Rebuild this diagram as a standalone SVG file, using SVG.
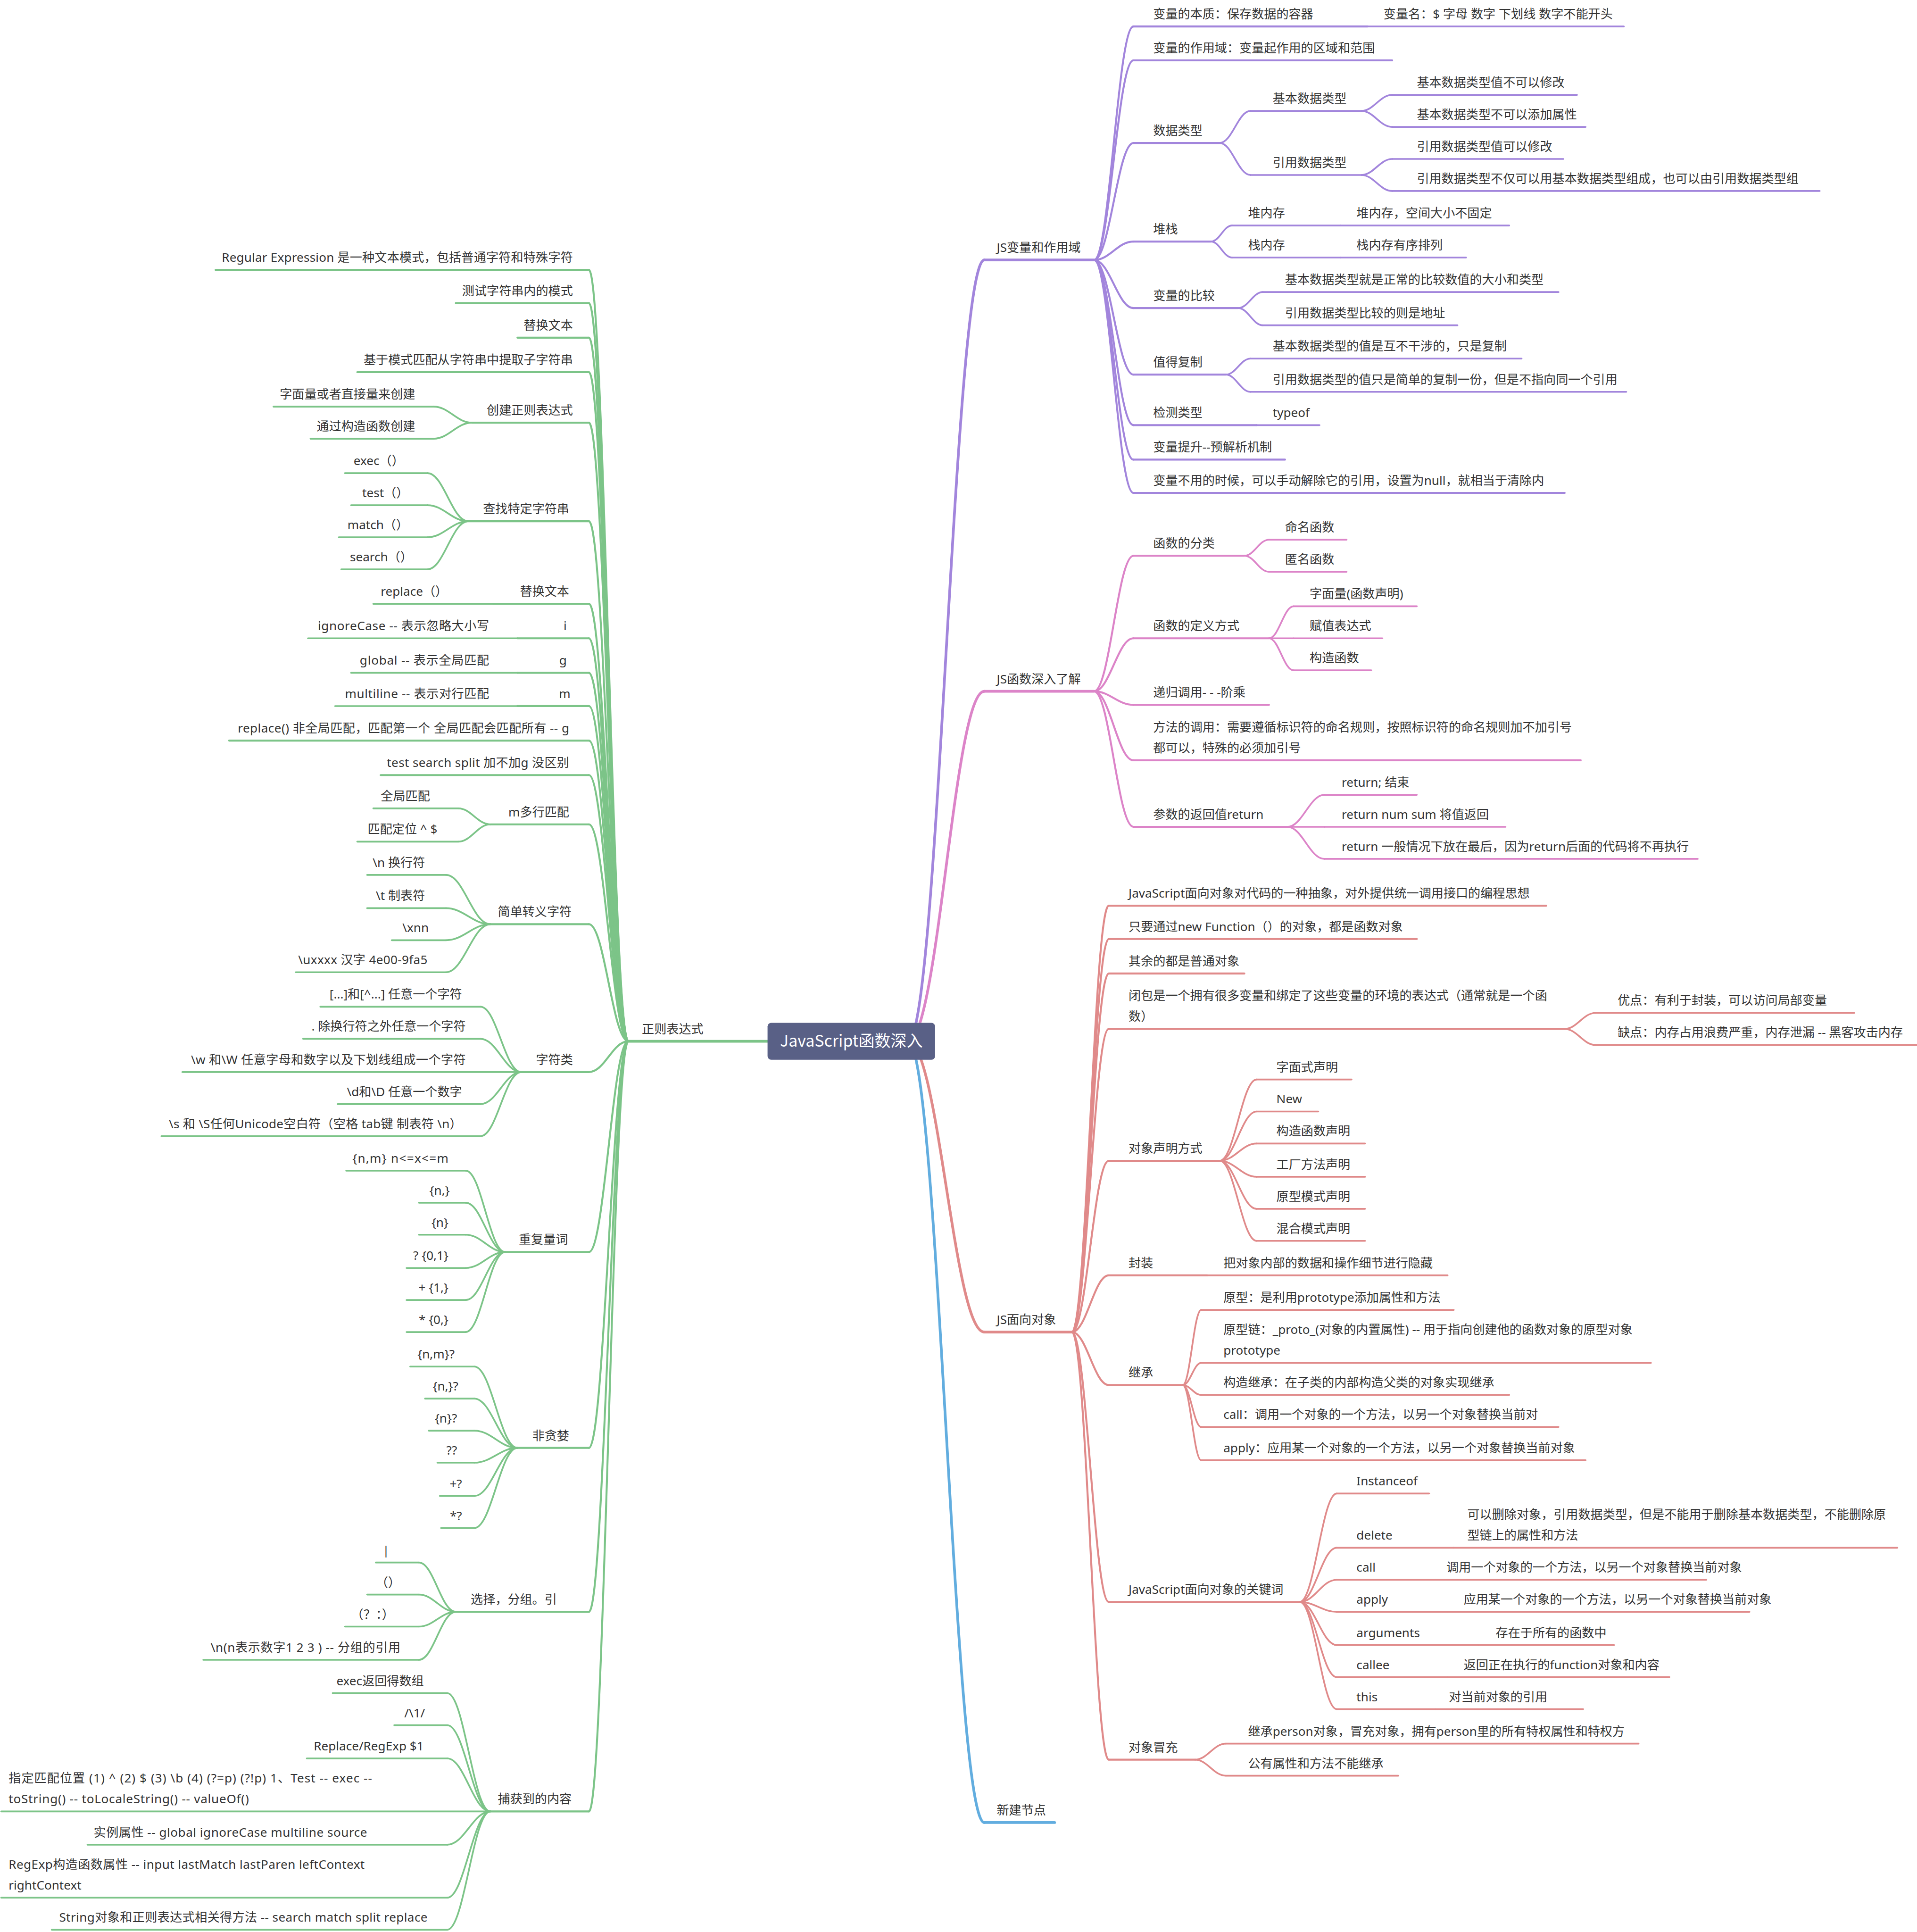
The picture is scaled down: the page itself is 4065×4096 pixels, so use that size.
<svg xmlns="http://www.w3.org/2000/svg" width="4065" height="4096" viewBox="0 0 4065 4096">
<style>
.t{font-family:"Noto Sans","Noto Sans CJK SC",sans-serif;font-size:10px;fill:#333}
.e{text-anchor:end}
.ln{fill:none;stroke-linecap:round}
.w1{stroke-width:2.2}.w2{stroke-width:1.6}.w3{stroke-width:1.4}
.P{stroke:#a285dc}.K{stroke:#dc84c8}.R{stroke:#e08a8a}.G{stroke:#7cc488}.B{stroke:#62addf}
</style>
<rect width="4065" height="4096" fill="#fff"/>
<g transform="scale(2.6125)">
<g id="connectors">
<path class="ln w1 P" d="M737 845C761.8 845 774.2 211 799 211"/>
<path class="ln w1 K" d="M737 845C761.8 845 774.2 561 799 561"/>
<path class="ln w1 R" d="M737 845C761.8 845 774.2 1081 799 1081"/>
<path class="ln w1 B" d="M737 845C761.8 845 774.2 1479 799 1479"/>
<path class="ln w1 G" d="M623 845H510"/>
<path class="ln w2 P" d="M888 211C900.8 211 907.2 21.5 920 21.5"/>
<path class="ln w2 P" d="M888 211C900.8 211 907.2 49 920 49"/>
<path class="ln w2 P" d="M888 211C900.8 211 907.2 116 920 116"/>
<path class="ln w2 P" d="M888 211C900.8 211 907.2 196 920 196"/>
<path class="ln w2 P" d="M888 211C900.8 211 907.2 250 920 250"/>
<path class="ln w2 P" d="M888 211C900.8 211 907.2 304 920 304"/>
<path class="ln w2 P" d="M888 211C900.8 211 907.2 345 920 345"/>
<path class="ln w2 P" d="M888 211C900.8 211 907.2 373 920 373"/>
<path class="ln w2 P" d="M888 211C900.8 211 907.2 400 920 400"/>
<path class="ln w3 P" d="M990 116C1000 116 1005 90 1015 90"/>
<path class="ln w3 P" d="M990 116C1000 116 1005 142 1015 142"/>
<path class="ln w3 P" d="M1105 90C1115 90 1120 77 1130 77"/>
<path class="ln w3 P" d="M1105 90C1115 90 1120 103 1130 103"/>
<path class="ln w3 P" d="M1105 142C1115 142 1120 129 1130 129"/>
<path class="ln w3 P" d="M1105 142C1115 142 1120 155 1130 155"/>
<path class="ln w3 P" d="M983 196C989.8 196 993.2 183 1000 183"/>
<path class="ln w3 P" d="M983 196C989.8 196 993.2 209 1000 209"/>
<path class="ln w3 P" d="M1005 250C1013 250 1017 237 1025 237"/>
<path class="ln w3 P" d="M1005 250C1013 250 1017 264 1025 264"/>
<path class="ln w3 P" d="M995 304C1003 304 1007 291 1015 291"/>
<path class="ln w3 P" d="M995 304C1003 304 1007 318 1015 318"/>
<path class="ln w2 K" d="M888 561C900.8 561 907.2 451 920 451"/>
<path class="ln w2 K" d="M888 561C900.8 561 907.2 518 920 518"/>
<path class="ln w2 K" d="M888 561C900.8 561 907.2 572 920 572"/>
<path class="ln w2 K" d="M888 561C900.8 561 907.2 617 920 617"/>
<path class="ln w2 K" d="M888 561C900.8 561 907.2 671 920 671"/>
<path class="ln w3 K" d="M1010 451C1018 451 1022 438 1030 438"/>
<path class="ln w3 K" d="M1010 451C1018 451 1022 464 1030 464"/>
<path class="ln w3 K" d="M1030 518C1038 518 1042 492 1050 492"/>
<path class="ln w3 K" d="M1030 518H1050"/>
<path class="ln w3 K" d="M1030 518C1038 518 1042 544 1050 544"/>
<path class="ln w3 K" d="M1045 671C1057 671 1063 645 1075 645"/>
<path class="ln w3 K" d="M1045 671H1075"/>
<path class="ln w3 K" d="M1045 671C1057 671 1063 697 1075 697"/>
<path class="ln w2 R" d="M870 1081C882 1081 888 735 900 735"/>
<path class="ln w2 R" d="M870 1081C882 1081 888 762 900 762"/>
<path class="ln w2 R" d="M870 1081C882 1081 888 790 900 790"/>
<path class="ln w2 R" d="M870 1081C882 1081 888 835 900 835"/>
<path class="ln w2 R" d="M870 1081C882 1081 888 942 900 942"/>
<path class="ln w2 R" d="M870 1081C882 1081 888 1035 900 1035"/>
<path class="ln w2 R" d="M870 1081C882 1081 888 1124 900 1124"/>
<path class="ln w2 R" d="M870 1081C882 1081 888 1300 900 1300"/>
<path class="ln w2 R" d="M870 1081C882 1081 888 1428 900 1428"/>
<path class="ln w3 R" d="M1270 835C1280 835 1285 822 1295 822"/>
<path class="ln w3 R" d="M1270 835C1280 835 1285 848 1295 848"/>
<path class="ln w3 R" d="M990 942C1002 942 1008 876 1020 876"/>
<path class="ln w3 R" d="M990 942C1002 942 1008 902 1020 902"/>
<path class="ln w3 R" d="M990 942C1002 942 1008 928 1020 928"/>
<path class="ln w3 R" d="M990 942C1002 942 1008 955 1020 955"/>
<path class="ln w3 R" d="M990 942C1002 942 1008 981 1020 981"/>
<path class="ln w3 R" d="M990 942C1002 942 1008 1007 1020 1007"/>
<path class="ln w3 R" d="M960 1124C966 1124 969 1063 975 1063"/>
<path class="ln w3 R" d="M960 1124C966 1124 969 1106 975 1106"/>
<path class="ln w3 R" d="M960 1124C966 1124 969 1132 975 1132"/>
<path class="ln w3 R" d="M960 1124C966 1124 969 1158 975 1158"/>
<path class="ln w3 R" d="M960 1124C966 1124 969 1185 975 1185"/>
<path class="ln w3 R" d="M1055 1300C1067 1300 1073 1212 1085 1212"/>
<path class="ln w3 R" d="M1055 1300C1067 1300 1073 1256 1085 1256"/>
<path class="ln w3 R" d="M1055 1300C1067 1300 1073 1282 1085 1282"/>
<path class="ln w3 R" d="M1055 1300C1067 1300 1073 1308 1085 1308"/>
<path class="ln w3 R" d="M1055 1300C1067 1300 1073 1335 1085 1335"/>
<path class="ln w3 R" d="M1055 1300C1067 1300 1073 1361 1085 1361"/>
<path class="ln w3 R" d="M1055 1300C1067 1300 1073 1387 1085 1387"/>
<path class="ln w3 R" d="M970 1428C980 1428 985 1415 995 1415"/>
<path class="ln w3 R" d="M970 1428C980 1428 985 1441 995 1441"/>
<path class="ln w2 G" d="M510 845C497.2 845 490.8 219 478 219"/>
<path class="ln w2 G" d="M510 845C497.2 845 490.8 246 478 246"/>
<path class="ln w2 G" d="M510 845C497.2 845 490.8 274 478 274"/>
<path class="ln w2 G" d="M510 845C497.2 845 490.8 302 478 302"/>
<path class="ln w2 G" d="M510 845C497.2 845 490.8 343 478 343"/>
<path class="ln w2 G" d="M510 845C497.2 845 490.8 423 478 423"/>
<path class="ln w2 G" d="M510 845C497.2 845 490.8 490 478 490"/>
<path class="ln w2 G" d="M510 845C497.2 845 490.8 518 478 518"/>
<path class="ln w2 G" d="M510 845C497.2 845 490.8 546 478 546"/>
<path class="ln w2 G" d="M510 845C497.2 845 490.8 573 478 573"/>
<path class="ln w2 G" d="M510 845C497.2 845 490.8 601 478 601"/>
<path class="ln w2 G" d="M510 845C497.2 845 490.8 629 478 629"/>
<path class="ln w2 G" d="M510 845C497.2 845 490.8 669 478 669"/>
<path class="ln w2 G" d="M510 845C497.2 845 490.8 750 478 750"/>
<path class="ln w2 G" d="M510 845C497.2 845 490.8 870 478 870"/>
<path class="ln w2 G" d="M510 845C497.2 845 490.8 1016 478 1016"/>
<path class="ln w2 G" d="M510 845C497.2 845 490.8 1175 478 1175"/>
<path class="ln w2 G" d="M510 845C497.2 845 490.8 1308 478 1308"/>
<path class="ln w2 G" d="M510 845C497.2 845 490.8 1470 478 1470"/>
<path class="ln w3 G" d="M383 343C370.6 343 364.4 330 352 330"/>
<path class="ln w3 G" d="M383 343C370.6 343 364.4 356 352 356"/>
<path class="ln w3 G" d="M380 423C366.8 423 360.2 384 347 384"/>
<path class="ln w3 G" d="M380 423C366.8 423 360.2 410 347 410"/>
<path class="ln w3 G" d="M380 423C366.8 423 360.2 436 347 436"/>
<path class="ln w3 G" d="M380 423C366.8 423 360.2 462 347 462"/>
<path class="ln w3 G" d="M398 669C387.6 669 382.4 656 372 656"/>
<path class="ln w3 G" d="M398 669C387.6 669 382.4 683 372 683"/>
<path class="ln w3 G" d="M398 750C383.6 750 376.4 710 362 710"/>
<path class="ln w3 G" d="M398 750C383.6 750 376.4 737 362 737"/>
<path class="ln w3 G" d="M398 750C383.6 750 376.4 763 362 763"/>
<path class="ln w3 G" d="M398 750C383.6 750 376.4 789 362 789"/>
<path class="ln w3 G" d="M423 870C409.8 870 403.2 817 390 817"/>
<path class="ln w3 G" d="M423 870C409.8 870 403.2 843 390 843"/>
<path class="ln w3 G" d="M423 870C409.8 870 403.2 896 390 896"/>
<path class="ln w3 G" d="M423 870C409.8 870 403.2 922 390 922"/>
<path class="ln w3 G" d="M410 1016C397.2 1016 390.8 950 378 950"/>
<path class="ln w3 G" d="M410 1016C397.2 1016 390.8 976 378 976"/>
<path class="ln w3 G" d="M410 1016C397.2 1016 390.8 1002 378 1002"/>
<path class="ln w3 G" d="M410 1016C397.2 1016 390.8 1029 378 1029"/>
<path class="ln w3 G" d="M410 1016C397.2 1016 390.8 1055 378 1055"/>
<path class="ln w3 G" d="M410 1016C397.2 1016 390.8 1081 378 1081"/>
<path class="ln w3 G" d="M420 1175C406 1175 399 1109 385 1109"/>
<path class="ln w3 G" d="M420 1175C406 1175 399 1135 385 1135"/>
<path class="ln w3 G" d="M420 1175C406 1175 399 1161 385 1161"/>
<path class="ln w3 G" d="M420 1175C406 1175 399 1187 385 1187"/>
<path class="ln w3 G" d="M420 1175C406 1175 399 1214 385 1214"/>
<path class="ln w3 G" d="M420 1175C406 1175 399 1240 385 1240"/>
<path class="ln w3 G" d="M370 1308C358 1308 352 1268 340 1268"/>
<path class="ln w3 G" d="M370 1308C358 1308 352 1294 340 1294"/>
<path class="ln w3 G" d="M370 1308C358 1308 352 1320 340 1320"/>
<path class="ln w3 G" d="M370 1308C358 1308 352 1347 340 1347"/>
<path class="ln w3 G" d="M398 1470C384 1470 377 1374 363 1374"/>
<path class="ln w3 G" d="M398 1470C384 1470 377 1400 363 1400"/>
<path class="ln w3 G" d="M398 1470C384 1470 377 1427 363 1427"/>
<path class="ln w3 G" d="M398 1470C384 1470 377 1497 363 1497"/>
<path class="ln w3 G" d="M398 1470C384 1470 377 1540 363 1540"/>
<path class="ln w3 G" d="M398 1470C384 1470 377 1566 363 1566"/>
</g>

<g id="n-var"><path class="ln w1 P" d="M799 211H888"/><text class="t" x="809" y="204.5">JS变量和作用域</text></g>
<g id="n-v1"><path class="ln w2 P" d="M920 21.5H1110"/><text class="t" x="936" y="15">变量的本质：保存数据的容器</text></g>
<g id="n-v1a"><path class="ln w3 P" d="M1110 21.5H1318"/><text class="t" x="1123" y="15">变量名：$ 字母 数字 下划线 数字不能开头</text></g>
<g id="n-v2"><path class="ln w2 P" d="M920 49H1130"/><text class="t" x="936" y="42.5">变量的作用域：变量起作用的区域和范围</text></g>
<g id="n-v3"><path class="ln w2 P" d="M920 116H990"/><text class="t" x="936" y="109.5">数据类型</text></g>
<g id="n-v3a"><path class="ln w3 P" d="M1015 90H1105"/><text class="t" x="1033" y="83.5">基本数据类型</text></g>
<g id="n-v3a1"><path class="ln w3 P" d="M1130 77H1280"/><text class="t" x="1150" y="70.5">基本数据类型值不可以修改</text></g>
<g id="n-v3a2"><path class="ln w3 P" d="M1130 103H1287"/><text class="t" x="1150" y="96.5">基本数据类型不可以添加属性</text></g>
<g id="n-v3b"><path class="ln w3 P" d="M1015 142H1105"/><text class="t" x="1033" y="135.5">引用数据类型</text></g>
<g id="n-v3b1"><path class="ln w3 P" d="M1130 129H1269"/><text class="t" x="1150" y="122.5">引用数据类型值可以修改</text></g>
<g id="n-v3b2"><path class="ln w3 P" d="M1130 155H1477"/><text class="t" x="1150" y="148.5">引用数据类型不仅可以用基本数据类型组成，也可以由引用数据类型组</text></g>
<g id="n-v4"><path class="ln w2 P" d="M920 196H983"/><text class="t" x="936" y="189.5">堆栈</text></g>
<g id="n-v4a"><path class="ln w3 P" d="M1000 183H1088"/><text class="t" x="1013" y="176.5">堆内存</text></g>
<g id="n-v4a1"><path class="ln w3 P" d="M1088 183H1225"/><text class="t" x="1101" y="176.5">堆内存，空间大小不固定</text></g>
<g id="n-v4b"><path class="ln w3 P" d="M1000 209H1088"/><text class="t" x="1013" y="202.5">栈内存</text></g>
<g id="n-v4b1"><path class="ln w3 P" d="M1088 209H1190"/><text class="t" x="1101" y="202.5">栈内存有序排列</text></g>
<g id="n-v5"><path class="ln w2 P" d="M920 250H1005"/><text class="t" x="936" y="243.5">变量的比较</text></g>
<g id="n-v5a"><path class="ln w3 P" d="M1025 237H1265"/><text class="t" x="1043" y="230.5">基本数据类型就是正常的比较数值的大小和类型</text></g>
<g id="n-v5b"><path class="ln w3 P" d="M1025 264H1183"/><text class="t" x="1043" y="257.5">引用数据类型比较的则是地址</text></g>
<g id="n-v6"><path class="ln w2 P" d="M920 304H995"/><text class="t" x="936" y="297.5">值得复制</text></g>
<g id="n-v6a"><path class="ln w3 P" d="M1015 291H1235"/><text class="t" x="1033" y="284.5">基本数据类型的值是互不干涉的，只是复制</text></g>
<g id="n-v6b"><path class="ln w3 P" d="M1015 318H1320"/><text class="t" x="1033" y="311.5">引用数据类型的值只是简单的复制一份，但是不指向同一个引用</text></g>
<g id="n-v7"><path class="ln w2 P" d="M920 345H1020"/><text class="t" x="936" y="338.5">检测类型</text></g>
<g id="n-v7a"><path class="ln w3 P" d="M1020 345H1071"/><text class="t" x="1033" y="338.5">typeof</text></g>
<g id="n-v8"><path class="ln w2 P" d="M920 373H1043"/><text class="t" x="936" y="366.5">变量提升--预解析机制</text></g>
<g id="n-v9"><path class="ln w2 P" d="M920 400H1270"/><text class="t" x="936" y="393.5">变量不用的时候，可以手动解除它的引用，设置为null，就相当于清除内</text></g>

<g id="n-fn"><path class="ln w1 K" d="M799 561H888"/><text class="t" x="809" y="554.5">JS函数深入了解</text></g>
<g id="n-f1"><path class="ln w2 K" d="M920 451H1010"/><text class="t" x="936" y="444.5">函数的分类</text></g>
<g id="n-f1a"><path class="ln w3 K" d="M1030 438H1093"/><text class="t" x="1043" y="431.5">命名函数</text></g>
<g id="n-f1b"><path class="ln w3 K" d="M1030 464H1093"/><text class="t" x="1043" y="457.5">匿名函数</text></g>
<g id="n-f2"><path class="ln w2 K" d="M920 518H1030"/><text class="t" x="936" y="511.5">函数的定义方式</text></g>
<g id="n-f2a"><path class="ln w3 K" d="M1050 492H1150"/><text class="t" x="1063" y="485.5">字面量(函数声明)</text></g>
<g id="n-f2b"><path class="ln w3 K" d="M1050 518H1122"/><text class="t" x="1063" y="511.5">赋值表达式</text></g>
<g id="n-f2c"><path class="ln w3 K" d="M1050 544H1113"/><text class="t" x="1063" y="537.5">构造函数</text></g>
<g id="n-f3"><path class="ln w2 K" d="M920 572H1030"/><text class="t" x="936" y="565.5">递归调用- - -阶乘</text></g>
<g id="n-f4"><path class="ln w2 K" d="M920 617H1283"/><text class="t" x="936" y="593.5">方法的调用：需要遵循标识符的命名规则，按照标识符的命名规则加不加引号</text><text class="t" x="936" y="610.5">都可以，特殊的必须加引号</text></g>
<g id="n-f5"><path class="ln w2 K" d="M920 671H1045"/><text class="t" x="936" y="664.5">参数的返回值return</text></g>
<g id="n-f5a"><path class="ln w3 K" d="M1075 645H1150"/><text class="t" x="1089" y="638.5">return; 结束</text></g>
<g id="n-f5b"><path class="ln w3 K" d="M1075 671H1222"/><text class="t" x="1089" y="664.5">return num sum 将值返回</text></g>
<g id="n-f5c"><path class="ln w3 K" d="M1075 697H1378"/><text class="t" x="1089" y="690.5">return 一般情况下放在最后，因为return后面的代码将不再执行</text></g>

<g id="n-oo"><path class="ln w1 R" d="M799 1081H870"/><text class="t" x="809" y="1074.5">JS面向对象</text></g>
<g id="n-o1"><path class="ln w2 R" d="M900 735H1255"/><text class="t" x="916" y="728.5">JavaScript面向对象对代码的一种抽象，对外提供统一调用接口的编程思想</text></g>
<g id="n-o2"><path class="ln w2 R" d="M900 762H1150"/><text class="t" x="916" y="755.5">只要通过new Function（）的对象，都是函数对象</text></g>
<g id="n-o3"><path class="ln w2 R" d="M900 790H1010"/><text class="t" x="916" y="783.5">其余的都是普通对象</text></g>
<g id="n-o4"><path class="ln w2 R" d="M900 835H1270"/><text class="t" x="916" y="811.5">闭包是一个拥有很多变量和绑定了这些变量的环境的表达式（通常就是一个函</text><text class="t" x="916" y="828.5">数）</text></g>
<g id="n-o4a"><path class="ln w3 R" d="M1295 822H1505"/><text class="t" x="1313" y="815.5">优点：有利于封装，可以访问局部变量</text></g>
<g id="n-o4b"><path class="ln w3 R" d="M1295 848H1556"/><text class="t" x="1313" y="841.5">缺点：内存占用浪费严重，内存泄漏 -- 黑客攻击内存</text></g>
<g id="n-o5"><path class="ln w2 R" d="M900 942H990"/><text class="t" x="916" y="935.5">对象声明方式</text></g>
<g id="n-o5a"><path class="ln w3 R" d="M1020 876H1097"/><text class="t" x="1036" y="869.5">字面式声明</text></g>
<g id="n-o5b"><path class="ln w3 R" d="M1020 902H1070"/><text class="t" x="1036" y="895.5">New</text></g>
<g id="n-o5c"><path class="ln w3 R" d="M1020 928H1108"/><text class="t" x="1036" y="921.5">构造函数声明</text></g>
<g id="n-o5d"><path class="ln w3 R" d="M1020 955H1108"/><text class="t" x="1036" y="948.5">工厂方法声明</text></g>
<g id="n-o5e"><path class="ln w3 R" d="M1020 981H1108"/><text class="t" x="1036" y="974.5">原型模式声明</text></g>
<g id="n-o5f"><path class="ln w3 R" d="M1020 1007H1108"/><text class="t" x="1036" y="1000.5">混合模式声明</text></g>
<g id="n-o6"><path class="ln w2 R" d="M900 1035H980"/><text class="t" x="916" y="1028.5">封装</text></g>
<g id="n-o6a"><path class="ln w3 R" d="M980 1035H1175"/><text class="t" x="993" y="1028.5">把对象内部的数据和操作细节进行隐藏</text></g>
<g id="n-o7"><path class="ln w2 R" d="M900 1124H960"/><text class="t" x="916" y="1117.5">继承</text></g>
<g id="n-o7a"><path class="ln w3 R" d="M975 1063H1180"/><text class="t" x="993" y="1056.5">原型：是利用prototype添加属性和方法</text></g>
<g id="n-o7b"><path class="ln w3 R" d="M975 1106H1340"/><text class="t" x="993" y="1082.5">原型链：_proto_(对象的内置属性) -- 用于指向创建他的函数对象的原型对象</text><text class="t" x="993" y="1099.5">prototype</text></g>
<g id="n-o7c"><path class="ln w3 R" d="M975 1132H1225"/><text class="t" x="993" y="1125.5">构造继承：在子类的内部构造父类的对象实现继承</text></g>
<g id="n-o7d"><path class="ln w3 R" d="M975 1158H1265"/><text class="t" x="993" y="1151.5">call：调用一个对象的一个方法，以另一个对象替换当前对</text></g>
<g id="n-o7e"><path class="ln w3 R" d="M975 1185H1287"/><text class="t" x="993" y="1178.5">apply：应用某一个对象的一个方法，以另一个对象替换当前对象</text></g>
<g id="n-o8"><path class="ln w2 R" d="M900 1300H1055"/><text class="t" x="916" y="1293.5">JavaScript面向对象的关键词</text></g>
<g id="n-o8a"><path class="ln w3 R" d="M1085 1212H1160"/><text class="t" x="1101" y="1205.5">Instanceof</text></g>
<g id="n-o8b"><path class="ln w3 R" d="M1085 1256H1180"/><text class="t" x="1101" y="1249.5">delete</text></g>
<g id="n-o8b1"><path class="ln w3 R" d="M1180 1256H1540"/><text class="t" x="1191" y="1232.5">可以删除对象，引用数据类型，但是不能用于删除基本数据类型，不能删除原</text><text class="t" x="1191" y="1249.5">型链上的属性和方法</text></g>
<g id="n-o8c"><path class="ln w3 R" d="M1085 1282H1165"/><text class="t" x="1101" y="1275.5">call</text></g>
<g id="n-o8c1"><path class="ln w3 R" d="M1165 1282H1385"/><text class="t" x="1174" y="1275.5">调用一个对象的一个方法，以另一个对象替换当前对象</text></g>
<g id="n-o8d"><path class="ln w3 R" d="M1085 1308H1175"/><text class="t" x="1101" y="1301.5">apply</text></g>
<g id="n-o8d1"><path class="ln w3 R" d="M1175 1308H1420"/><text class="t" x="1188" y="1301.5">应用某一个对象的一个方法，以另一个对象替换当前对象</text></g>
<g id="n-o8e"><path class="ln w3 R" d="M1085 1335H1200"/><text class="t" x="1101" y="1328.5">arguments</text></g>
<g id="n-o8e1"><path class="ln w3 R" d="M1200 1335H1310"/><text class="t" x="1214" y="1328.5">存在于所有的函数中</text></g>
<g id="n-o8f"><path class="ln w3 R" d="M1085 1361H1175"/><text class="t" x="1101" y="1354.5">callee</text></g>
<g id="n-o8f1"><path class="ln w3 R" d="M1175 1361H1355"/><text class="t" x="1188" y="1354.5">返回正在执行的function对象和内容</text></g>
<g id="n-o8g"><path class="ln w3 R" d="M1085 1387H1165"/><text class="t" x="1101" y="1380.5">this</text></g>
<g id="n-o8g1"><path class="ln w3 R" d="M1165 1387H1285"/><text class="t" x="1176" y="1380.5">对当前对象的引用</text></g>
<g id="n-o9"><path class="ln w2 R" d="M900 1428H970"/><text class="t" x="916" y="1421.5">对象冒充</text></g>
<g id="n-o9a"><path class="ln w3 R" d="M995 1415H1330"/><text class="t" x="1013" y="1408.5">继承person对象，冒充对象，拥有person里的所有特权属性和特权方</text></g>
<g id="n-o9b"><path class="ln w3 R" d="M995 1441H1135"/><text class="t" x="1013" y="1434.5">公有属性和方法不能继承</text></g>

<g id="n-new"><path class="ln w1 B" d="M799 1479H856"/><text class="t" x="809" y="1472.5">新建节点</text></g>

<g id="n-re"><text class="t" x="521" y="838.5">正则表达式</text></g>
<g id="n-r1"><path class="ln w2 G" d="M175 219H478"/><text class="t e" x="465" y="212.5" textLength="285" lengthAdjust="spacing">Regular Expression 是一种文本模式，包括普通字符和特殊字符</text></g>
<g id="n-r2"><path class="ln w2 G" d="M370 246H478"/><text class="t e" x="465" y="239.5">测试字符串内的模式</text></g>
<g id="n-r3"><path class="ln w2 G" d="M420 274H478"/><text class="t e" x="465" y="267.5">替换文本</text></g>
<g id="n-r4"><path class="ln w2 G" d="M290 302H478"/><text class="t e" x="465" y="295.5">基于模式匹配从字符串中提取子字符串</text></g>
<g id="n-r5"><path class="ln w2 G" d="M383 343H478"/><text class="t e" x="465" y="336.5">创建正则表达式</text></g>
<g id="n-r5a"><path class="ln w3 G" d="M222 330H352"/><text class="t e" x="337" y="323.5">字面量或者直接量来创建</text></g>
<g id="n-r5b"><path class="ln w3 G" d="M252 356H352"/><text class="t e" x="337" y="349.5">通过构造函数创建</text></g>
<g id="n-r6"><path class="ln w2 G" d="M380 423H478"/><text class="t e" x="462" y="416.5">查找特定字符串</text></g>
<g id="n-r6a"><path class="ln w3 G" d="M280 384H347"/><text class="t" x="287" y="377.5">exec（）</text></g>
<g id="n-r6b"><path class="ln w3 G" d="M285 410H347"/><text class="t" x="294" y="403.5">test（）</text></g>
<g id="n-r6c"><path class="ln w3 G" d="M275 436H347"/><text class="t" x="282" y="429.5">match（）</text></g>
<g id="n-r6d"><path class="ln w3 G" d="M277 462H347"/><text class="t" x="284" y="455.5">search（）</text></g>
<g id="n-r7"><path class="ln w2 G" d="M400 490H478"/><text class="t e" x="462" y="483.5">替换文本</text></g>
<g id="n-r7a"><path class="ln w3 G" d="M303 490H400"/><text class="t" x="309" y="483.5">replace（）</text></g>
<g id="n-r8"><path class="ln w2 G" d="M420 518H478"/><text class="t e" x="460" y="511.5">i</text></g>
<g id="n-r8a"><path class="ln w3 G" d="M250 518H420"/><text class="t e" x="397" y="511.5" textLength="139" lengthAdjust="spacing">ignoreCase -- 表示忽略大小写</text></g>
<g id="n-r9"><path class="ln w2 G" d="M420 546H478"/><text class="t e" x="460" y="539.5">g</text></g>
<g id="n-r9a"><path class="ln w3 G" d="M285 546H420"/><text class="t e" x="397" y="539.5" textLength="105" lengthAdjust="spacing">global -- 表示全局匹配</text></g>
<g id="n-r10"><path class="ln w2 G" d="M420 573H478"/><text class="t e" x="463" y="566.5">m</text></g>
<g id="n-r10a"><path class="ln w3 G" d="M272 573H420"/><text class="t e" x="397" y="566.5" textLength="117" lengthAdjust="spacing">multiline -- 表示对行匹配</text></g>
<g id="n-r11"><path class="ln w2 G" d="M186 601H478"/><text class="t e" x="462" y="594.5" textLength="269" lengthAdjust="spacing">replace() 非全局匹配，匹配第一个 全局匹配会匹配所有 -- g</text></g>
<g id="n-r12"><path class="ln w2 G" d="M309 629H478"/><text class="t e" x="462" y="622.5" textLength="148" lengthAdjust="spacing">test search split 加不加g 没区别</text></g>
<g id="n-r13"><path class="ln w2 G" d="M398 669H478"/><text class="t e" x="462" y="662.5">m多行匹配</text></g>
<g id="n-r13a"><path class="ln w3 G" d="M303 656H372"/><text class="t e" x="349" y="649.5">全局匹配</text></g>
<g id="n-r13b"><path class="ln w3 G" d="M290 683H372"/><text class="t e" x="355" y="676.5">匹配定位 ^ $</text></g>
<g id="n-r14"><path class="ln w2 G" d="M398 750H478"/><text class="t e" x="464" y="743.5">简单转义字符</text></g>
<g id="n-r14a"><path class="ln w3 G" d="M298 710H362"/><text class="t e" x="345" y="703.5">\n 换行符</text></g>
<g id="n-r14b"><path class="ln w3 G" d="M298 737H362"/><text class="t e" x="345" y="730.5">\t 制表符</text></g>
<g id="n-r14c"><path class="ln w3 G" d="M318 763H362"/><text class="t e" x="348" y="756.5">\xnn</text></g>
<g id="n-r14d"><path class="ln w3 G" d="M240 789H362"/><text class="t e" x="347" y="782.5" textLength="105" lengthAdjust="spacing">\uxxxx 汉字 4e00-9fa5</text></g>
<g id="n-r15"><path class="ln w2 G" d="M423 870H478"/><text class="t e" x="465" y="863.5">字符类</text></g>
<g id="n-r15a"><path class="ln w3 G" d="M260 817H390"/><text class="t e" x="375" y="810.5">[...]和[^...] 任意一个字符</text></g>
<g id="n-r15b"><path class="ln w3 G" d="M246 843H390"/><text class="t e" x="378" y="836.5">. 除换行符之外任意一个字符</text></g>
<g id="n-r15c"><path class="ln w3 G" d="M148 870H423"/><text class="t e" x="378" y="863.5" textLength="223" lengthAdjust="spacing">\w 和\W 任意字母和数字以及下划线组成一个字符</text></g>
<g id="n-r15d"><path class="ln w3 G" d="M274 896H390"/><text class="t e" x="375" y="889.5">\d和\D 任意一个数字</text></g>
<g id="n-r15e"><path class="ln w3 G" d="M131 922H390"/><text class="t" x="137" y="915.5" textLength="238" lengthAdjust="spacing">\s 和 \S任何Unicode空白符（空格 tab键 制表符 \n）</text></g>
<g id="n-r16"><path class="ln w2 G" d="M410 1016H478"/><text class="t e" x="461" y="1009.5">重复量词</text></g>
<g id="n-r16a"><path class="ln w3 G" d="M281 950H378"/><text class="t e" x="364" y="943.5" textLength="78" lengthAdjust="spacing">{n,m} n&lt;=x&lt;=m</text></g>
<g id="n-r16b"><path class="ln w3 G" d="M340 976H378"/><text class="t e" x="365" y="969.5">{n,}</text></g>
<g id="n-r16c"><path class="ln w3 G" d="M340 1002H378"/><text class="t e" x="364" y="995.5">{n}</text></g>
<g id="n-r16d"><path class="ln w3 G" d="M330 1029H378"/><text class="t e" x="364" y="1022.5">? {0,1}</text></g>
<g id="n-r16e"><path class="ln w3 G" d="M330 1055H378"/><text class="t e" x="364" y="1048.5">+ {1,}</text></g>
<g id="n-r16f"><path class="ln w3 G" d="M330 1081H378"/><text class="t e" x="364" y="1074.5">* {0,}</text></g>
<g id="n-r17"><path class="ln w2 G" d="M420 1175H478"/><text class="t e" x="462" y="1168.5">非贪婪</text></g>
<g id="n-r17a"><path class="ln w3 G" d="M333 1109H385"/><text class="t e" x="369" y="1102.5">{n,m}?</text></g>
<g id="n-r17b"><path class="ln w3 G" d="M345 1135H385"/><text class="t e" x="372" y="1128.5">{n,}?</text></g>
<g id="n-r17c"><path class="ln w3 G" d="M348 1161H385"/><text class="t e" x="371" y="1154.5">{n}?</text></g>
<g id="n-r17d"><path class="ln w3 G" d="M355 1187H385"/><text class="t e" x="371" y="1180.5">??</text></g>
<g id="n-r17e"><path class="ln w3 G" d="M357 1214H385"/><text class="t e" x="375" y="1207.5">+?</text></g>
<g id="n-r17f"><path class="ln w3 G" d="M358 1240H385"/><text class="t e" x="375" y="1233.5">*?</text></g>
<g id="n-r18"><path class="ln w2 G" d="M370 1308H478"/><text class="t e" x="452" y="1301.5">选择，分组。引</text></g>
<g id="n-r18a"><path class="ln w3 G" d="M305 1268H340"/><text class="t e" x="316" y="1261.5">|</text></g>
<g id="n-r18b"><path class="ln w3 G" d="M298 1294H340"/><text class="t" x="305" y="1287.5">（）</text></g>
<g id="n-r18c"><path class="ln w3 G" d="M280 1320H340"/><text class="t" x="285" y="1313.5">（？：）</text></g>
<g id="n-r18d"><path class="ln w3 G" d="M165 1347H340"/><text class="t e" x="325" y="1340.5" textLength="154" lengthAdjust="spacing">\n(n表示数字1 2 3 ) -- 分组的引用</text></g>
<g id="n-r19"><path class="ln w2 G" d="M398 1470H478"/><text class="t e" x="464" y="1463.5">捕获到的内容</text></g>
<g id="n-r19a"><path class="ln w3 G" d="M270 1374H363"/><text class="t e" x="344" y="1367.5">exec返回得数组</text></g>
<g id="n-r19b"><path class="ln w3 G" d="M320 1400H363"/><text class="t e" x="345" y="1393.5">/\1/</text></g>
<g id="n-r19c"><path class="ln w3 G" d="M249 1427H363"/><text class="t e" x="344" y="1420.5">Replace/RegExp $1</text></g>
<g id="n-r19d"><path class="ln w3 G" d="M1 1470H398"/><text class="t" x="7" y="1446.5" textLength="295" lengthAdjust="spacing">指定匹配位置 (1) ^ (2) $ (3) \b (4) (?=p) (?!p) 1、Test -- exec --</text><text class="t" x="7" y="1463.5" textLength="195" lengthAdjust="spacing">toString() -- toLocaleString() -- valueOf()</text></g>
<g id="n-r19e"><path class="ln w3 G" d="M71 1497H363"/><text class="t e" x="298" y="1490.5" textLength="222" lengthAdjust="spacing">实例属性 -- global ignoreCase multiline source</text></g>
<g id="n-r19f"><path class="ln w3 G" d="M1 1540H363"/><text class="t" x="7" y="1516.5" textLength="289" lengthAdjust="spacing">RegExp构造函数属性 -- input lastMatch lastParen leftContext</text><text class="t" x="7" y="1533.5">rightContext</text></g>
<g id="n-r19g"><path class="ln w3 G" d="M42 1566H363"/><text class="t e" x="347" y="1559.5" textLength="299" lengthAdjust="spacing">String对象和正则表达式相关得方法 -- search match split replace</text></g>

<g id="n-root"><rect x="623" y="830" width="136" height="30" rx="3" fill="#596086"/><text x="691" y="849.5" text-anchor="middle" style="font-family:'Noto Sans CJK SC','Noto Sans',sans-serif;font-size:13px;fill:#fff">JavaScript函数深入</text></g>
</g>
</svg>
